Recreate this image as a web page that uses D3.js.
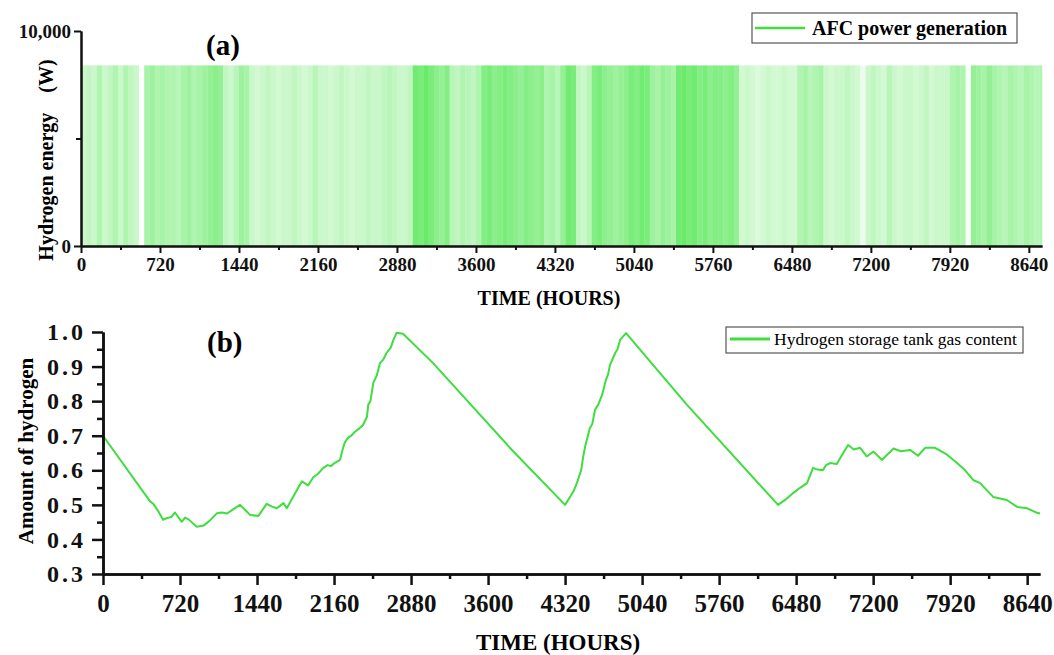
<!DOCTYPE html>
<html>
<head>
<meta charset="utf-8">
<script src="https://cdn.jsdelivr.net/npm/d3@7"></script>
<style>
  body { margin: 0; background: #fff; }
  text { font-family: "Liberation Serif", "Times New Roman", serif; }
</style>
</head>
<body>
<svg id="chart" width="1054" height="655"></svg>
<script>
// ---- data ----
let binHours = 48;        // each AFC bin covers 48 h
let afcPower = 8400;      // W, height of the AFC band
// share of hours the AFC runs in each 48 h bin (0..1)
let afcLevel = [
  0.3, 0.35, 0.3, 0.45, 0.3, 0.35, 0.45, 0.3, 0.45, 0.35, 0.3, 0.0,
  0.5, 0.55, 0.45, 0.5, 0.45, 0.45, 0.4, 0.5, 0.55, 0.45, 0.5, 0.55,
  0.6, 0.65, 0.6, 0.35, 0.3, 0.4, 0.55, 0.5,
  0.3, 0.25, 0.3, 0.35, 0.3, 0.25, 0.3, 0.3, 0.35, 0.3, 0.25, 0.3, 0.4,
  0.3, 0.3, 0.25, 0.3, 0.35, 0.3, 0.25, 0.3, 0.3, 0.35, 0.3, 0.3,
  0.35, 0.4, 0.35, 0.3, 0.3, 0.35,
  0.8, 0.75, 0.85, 0.75, 0.65, 0.6, 0.7,
  0.4, 0.35, 0.45, 0.4, 0.35, 0.45,
  0.7, 0.75, 0.65, 0.7, 0.75, 0.7, 0.65, 0.6, 0.7, 0.65, 0.6, 0.65,
  0.45, 0.5, 0.4, 0.6, 0.8, 0.75, 0.35, 0.3, 0.4,
  0.7, 0.75, 0.65, 0.6, 0.55, 0.6, 0.65, 0.75, 0.7, 0.8, 0.75,
  0.55, 0.5, 0.6, 0.55, 0.5, 0.8, 0.85, 0.75, 0.8,
  0.7, 0.75, 0.65, 0.7, 0.7, 0.65, 0.7, 0.6,
  0.25, 0.3, 0.25, 0.2, 0.25, 0.3, 0.25, 0.25, 0.3, 0.25, 0.25,
  0.45, 0.5, 0.4, 0.45, 0.5,
  0.3, 0.25, 0.3, 0.3, 0.35, 0.3, 0.25, 0.1,
  0.3, 0.35, 0.3, 0.25, 0.4,
  0.3, 0.25, 0.3, 0.3, 0.25, 0.3, 0.35, 0.25, 0.3, 0.3, 0.3,
  0.45, 0.5, 0.45, 0.05,
  0.6, 0.55, 0.5, 0.6, 0.5,
  0.45, 0.4, 0.5, 0.45, 0.4, 0.5, 0.45, 0.4, 0.45
];

// hydrogen storage tank content, [hour, fraction]
let tankContent = [
  [0, 0.70], [440, 0.51], [470, 0.503], [520, 0.48], [561, 0.457], [600, 0.462],
  [640, 0.465], [673, 0.478], [736, 0.451], [767, 0.463], [800, 0.458], [876, 0.437],
  [940, 0.44], [1000, 0.455], [1066, 0.476], [1110, 0.478], [1160, 0.475], [1230, 0.49],
  [1281, 0.50], [1330, 0.485], [1375, 0.471], [1453, 0.468], [1530, 0.503], [1580, 0.495],
  [1625, 0.49], [1687, 0.505], [1718, 0.49], [1777, 0.523], [1826, 0.55], [1860, 0.568],
  [1917, 0.556], [1966, 0.58], [2010, 0.59], [2060, 0.607], [2100, 0.615], [2130, 0.612],
  [2160, 0.62], [2216, 0.63], [2240, 0.66], [2260, 0.68], [2290, 0.694], [2320, 0.70],
  [2350, 0.71], [2400, 0.722], [2431, 0.731], [2468, 0.755], [2480, 0.79], [2500, 0.80],
  [2527, 0.853], [2560, 0.875], [2590, 0.91], [2620, 0.92], [2652, 0.94], [2690, 0.955],
  [2715, 0.977], [2746, 0.998], [2805, 0.995], [3086, 0.91], [3834, 0.655], [4320, 0.50],
  [4360, 0.52], [4400, 0.54], [4430, 0.563], [4470, 0.60], [4490, 0.64], [4507, 0.668],
  [4550, 0.72], [4575, 0.735], [4600, 0.775], [4630, 0.79], [4666, 0.818], [4700, 0.86],
  [4720, 0.875], [4740, 0.905], [4790, 0.94], [4810, 0.95], [4834, 0.977], [4890, 0.997],
  [5460, 0.789], [6311, 0.50],
  [6380, 0.515], [6452, 0.534], [6520, 0.55], [6582, 0.563], [6638, 0.607], [6680, 0.602],
  [6730, 0.60], [6760, 0.615], [6797, 0.621], [6860, 0.618], [6920, 0.650], [6966, 0.673],
  [7020, 0.66], [7078, 0.665], [7140, 0.64], [7203, 0.654], [7284, 0.63], [7330, 0.645],
  [7360, 0.653], [7390, 0.663], [7460, 0.655], [7545, 0.659], [7620, 0.642], [7686, 0.665],
  [7780, 0.665], [7891, 0.645], [7985, 0.621], [8060, 0.60], [8135, 0.572], [8200, 0.563],
  [8322, 0.523], [8450, 0.514], [8546, 0.494], [8640, 0.49], [8733, 0.477], [8760, 0.475]
];

let hourTicks = d3.range(0, 8641, 720);
let hourMinor = d3.range(360, 8760, 720);
let tankTicks = [0.3, 0.4, 0.5, 0.6, 0.7, 0.8, 0.9, 1.0];
let tankMinor = [0.35, 0.45, 0.55, 0.65, 0.75, 0.85, 0.95];

let lineGreen = "#3ede3e";
let svg = d3.select("#chart");

// ================= panel (a) =================
let xTop = d3.scaleLinear().domain([0, 8760]).range([81, 1042]);
let yTop = d3.scaleLinear().domain([0, 10000]).range([246, 31]);
let bandColor = d3.interpolateRgb("#ffffff", "#4ee64e");

svg.append("g").selectAll("rect")
  .data(afcLevel)
  .enter()
  .append("rect")
  .attr("x", (d, i) => xTop(i * binHours))
  .attr("width", (d, i) => xTop(Math.min((i + 1) * binHours, 8760)) - xTop(i * binHours) + 0.3)
  .attr("y", yTop(afcPower))
  .attr("height", yTop(0) - yTop(afcPower))
  .attr("fill", d => bandColor(d));

function styleAxis(g, fs, sw) {
  g.select(".domain").attr("stroke", "#111").attr("stroke-width", sw);
  g.selectAll(".tick line").attr("stroke", "#111").attr("stroke-width", sw);
  g.selectAll("text")
    .style("font-family", "Liberation Serif")
    .style("font-weight", "bold")
    .style("font-size", fs + "px")
    .attr("fill", "#111");
}

// x axis top
svg.append("g")
  .attr("transform", "translate(0,246)")
  .call(d3.axisBottom(xTop).tickValues(hourMinor).tickSize(4).tickFormat("").tickSizeOuter(0))
  .call(g => styleAxis(g, 18, 2));
svg.append("g")
  .attr("transform", "translate(0,246)")
  .call(d3.axisBottom(xTop).tickValues(hourTicks).tickSize(7).tickPadding(5).tickSizeOuter(0)
    .tickFormat(d3.format("d")))
  .call(g => styleAxis(g, 19, 2));

// y axis top
svg.append("g")
  .attr("transform", "translate(81,0)")
  .call(d3.axisLeft(yTop).tickValues([5000]).tickSize(5).tickFormat("").tickSizeOuter(0))
  .call(g => styleAxis(g, 19, 2));
svg.append("g")
  .attr("transform", "translate(81,0)")
  .call(d3.axisLeft(yTop).tickValues([0, 10000]).tickSize(7).tickPadding(3).tickSizeOuter(0)
    .tickFormat(d3.format(",")))
  .call(g => styleAxis(g, 19, 2));

svg.append("text")
  .attr("x", 549).attr("y", 305)
  .attr("text-anchor", "middle")
  .style("font-weight", "bold").style("font-size", "20px")
  .text("TIME (HOURS)");

svg.append("text")
  .attr("transform", "translate(53,160) rotate(-90)")
  .attr("text-anchor", "middle")
  .style("font-weight", "bold").style("font-size", "20px")
  .text("Hydrogen energy\u2003(W)");

svg.append("text")
  .attr("x", 206).attr("y", 55)
  .style("font-weight", "bold").style("font-size", "29px")
  .text("(a)");

// legend (a)
svg.append("rect")
  .attr("x", 752).attr("y", 13).attr("width", 265).attr("height", 30)
  .attr("fill", "#fff").attr("stroke", "#555").attr("stroke-width", 1.2);
svg.append("line")
  .attr("x1", 755).attr("x2", 805).attr("y1", 28).attr("y2", 28)
  .attr("stroke", lineGreen).attr("stroke-width", 2.5);
svg.append("text")
  .attr("x", 812).attr("y", 35)
  .style("font-weight", "bold").style("font-size", "20px")
  .text("AFC power generation");

// ================= panel (b) =================
let xBot = d3.scaleLinear().domain([0, 8760]).range([103, 1040]);
let yBot = d3.scaleLinear().domain([0.3, 1.0]).range([574, 332]);

svg.append("path")
  .datum(tankContent)
  .attr("d", d3.line().x(d => xBot(d[0])).y(d => yBot(d[1])))
  .attr("fill", "none")
  .attr("stroke", lineGreen)
  .attr("stroke-width", 2)
  .attr("stroke-linejoin", "round");

svg.append("g")
  .attr("transform", "translate(0,574)")
  .call(d3.axisBottom(xBot).tickValues(hourMinor).tickSize(5).tickFormat("").tickSizeOuter(0))
  .call(g => styleAxis(g, 24, 2.5));
svg.append("g")
  .attr("transform", "translate(0,574)")
  .call(d3.axisBottom(xBot).tickValues(hourTicks).tickSize(11).tickPadding(9).tickSizeOuter(0)
    .tickFormat(d3.format("d")))
  .call(g => styleAxis(g, 25, 2.5));

svg.append("g")
  .attr("transform", "translate(103,0)")
  .call(d3.axisLeft(yBot).tickValues(tankMinor).tickSize(6).tickFormat("").tickSizeOuter(0))
  .call(g => styleAxis(g, 23, 2.5));
svg.append("g")
  .attr("transform", "translate(103,0)")
  .call(d3.axisLeft(yBot).tickValues(tankTicks).tickSize(11).tickPadding(6).tickSizeOuter(0)
    .tickFormat(d3.format(".1f")))
  .call(g => styleAxis(g, 24, 2.5))
  .call(g => g.selectAll("text").style("letter-spacing", "3px"));

svg.append("text")
  .attr("x", 558).attr("y", 650)
  .attr("text-anchor", "middle")
  .style("font-weight", "bold").style("font-size", "23px")
  .text("TIME (HOURS)");

svg.append("text")
  .attr("transform", "translate(33,451) rotate(-90)")
  .attr("text-anchor", "middle")
  .style("font-weight", "bold").style("font-size", "21px")
  .text("Amount of hydrogen");

svg.append("text")
  .attr("x", 207).attr("y", 352)
  .style("font-weight", "bold").style("font-size", "29px")
  .text("(b)");

// legend (b)
svg.append("rect")
  .attr("x", 726).attr("y", 327).attr("width", 297).attr("height", 26)
  .attr("fill", "#fff").attr("stroke", "#555").attr("stroke-width", 1.2);
svg.append("line")
  .attr("x1", 730).attr("x2", 770).attr("y1", 339).attr("y2", 339)
  .attr("stroke", lineGreen).attr("stroke-width", 3);
svg.append("text")
  .attr("x", 774).attr("y", 345)
  .style("font-size", "17.5px")
  .text("Hydrogen storage tank gas content");
</script>
</body>
</html>
